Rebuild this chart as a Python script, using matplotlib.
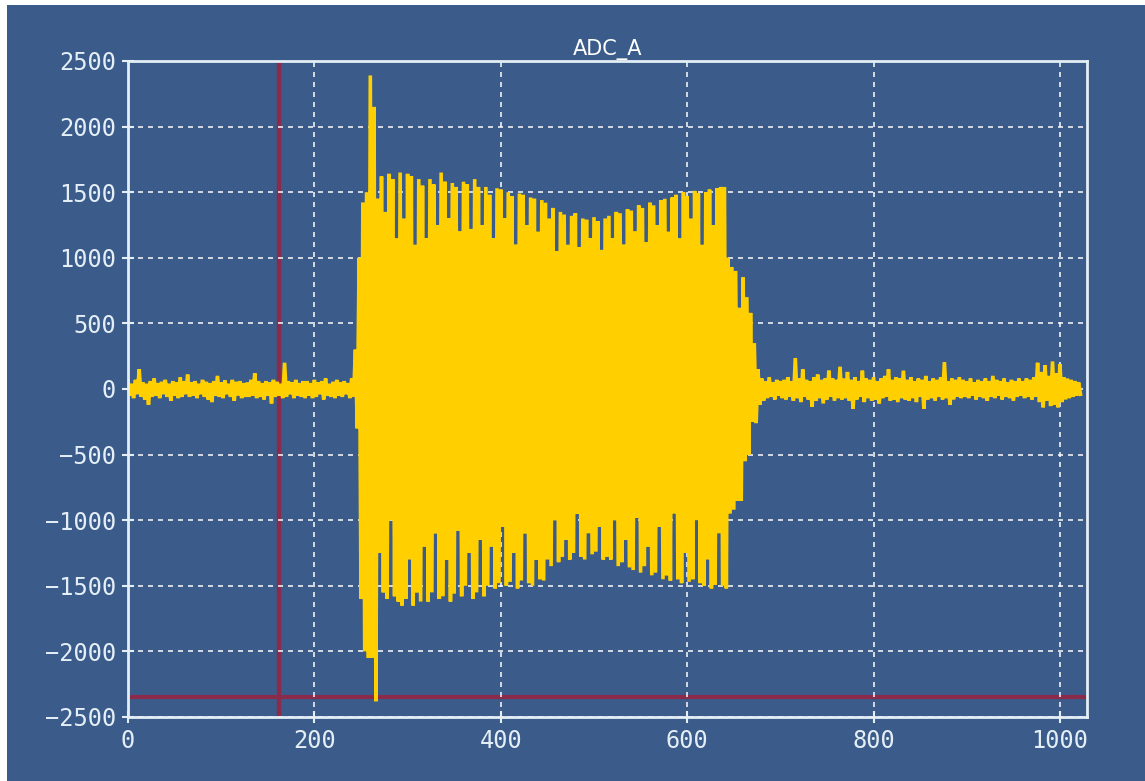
import matplotlib
import matplotlib.pyplot as plt
import numpy as np
from matplotlib.patches import Rectangle

matplotlib.use("Agg")

# ADC_A capture: one peak and one trough per 4-sample block
upper = [
    60, 40, 70, 150, 50, 40, 60, 80, 45, 55, 70, 40, 60, 50, 90, 60,
    110, 50, 60, 40, 70, 55, 45, 60, 100, 50, 65, 40, 70, 55, 60, 45,
    50, 70, 120, 60, 45, 60, 50, 70, 55, 40, 200, 60, 50, 70, 45, 60,
    60, 45, 70, 50, 60, 80, 40, 55, 70, 50, 60, 45, 80, 300, 1000, 1420,
    1500, 2390, 2150, 1450, 1620, 1350, 1640, 1600, 1150, 1650, 1300, 1640, 1620, 1100, 1600, 1550,
    1150, 1600, 1560, 1250, 1650, 1580, 1300, 1570, 1540, 1200, 1580, 1560, 1220, 1600, 1540, 1250,
    1540, 1480, 1150, 1530, 1520, 1300, 1500, 1470, 1100, 1490, 1480, 1250, 1460, 1450, 1200, 1440,
    1420, 1300, 1380, 1050, 1350, 1330, 1100, 1320, 1340, 1080, 1300, 1290, 1150, 1310, 1280, 1060,
    1300, 1320, 1150, 1350, 1340, 1100, 1370, 1360, 1200, 1400, 1380, 1120, 1420, 1400, 1250, 1440,
    1450, 1200, 1460, 1480, 1150, 1500, 1470, 1300, 1510, 1490, 1100, 1500, 1520, 1250, 1530, 1540,
    1540, 1000, 930, 900, 620, 850, 700, 580, 350, 150, 80, 60, 90, 50, 70, 60,
    70, 90, 60, 236, 80, 150, 70, 60, 90, 110, 70, 80, 140, 80, 70, 170,
    80, 130, 70, 90, 60, 140, 80, 70, 90, 60, 80, 100, 150, 70, 90, 80,
    140, 70, 90, 60, 80, 70, 100, 60, 80, 70, 90, 205, 60, 80, 70, 90,
    70, 60, 80, 50, 70, 60, 80, 60, 100, 70, 60, 80, 50, 70, 60, 80,
    60, 80, 70, 90, 200, 130, 180, 100, 210, 120, 190, 90, 80, 70, 60, 50,
]
lower = [
    -50, -70, -40, -60, -80, -120, -60, -50, -70, -40, -60, -90, -50, -70, -60, -40,
    -60, -50, -70, -40, -60, -80, -100, -50, -60, -70, -40, -60, -90, -50, -70, -60,
    -60, -50, -70, -60, -80, -50, -110, -60, -50, -70, -60, -40, -70, -50, -60, -70,
    -50, -70, -60, -40, -80, -50, -60, -70, -50, -60, -40, -70, -60, -300, -1600, -2000,
    -2050, -2050, -2380, -1250, -1550, -1600, -1000, -1580, -1620, -1650, -1600, -1300, -1650, -1550, -1620, -1200,
    -1620, -1550, -1100, -1600, -1580, -1300, -1620, -1560, -1080, -1580, -1500, -1250, -1600, -1550, -1150, -1580,
    -1500, -1200, -1520, -1480, -1050, -1500, -1470, -1250, -1520, -1460, -1100, -1480, -1500, -1300, -1450, -1460,
    -1300, -1350, -1000, -1320, -1280, -1150, -1300, -1250, -950, -1280, -1300, -1100, -1260, -1240, -1050, -1300,
    -1280, -1300, -1000, -1350, -1320, -1150, -1360, -1380, -980, -1400, -1350, -1200, -1420, -1400, -1050, -1450,
    -1420, -1460, -950, -1450, -1480, -1250, -1470, -1450, -1000, -1480, -1500, -1300, -1520, -1490, -1100, -1500,
    -1520, -950, -920, -850, -850, -550, -500, -250, -260, -120, -90, -70, -60, -80, -50, -70,
    -80, -60, -90, -70, -100, -60, -80, -135, -90, -70, -110, -80, -60, -90, -70, -80,
    -70, -90, -150, -80, -60, -100, -70, -90, -80, -110, -70, -60, -90, -80, -100, -70,
    -80, -90, -70, -100, -60, -150, -80, -70, -90, -60, -80, -70, -120, -80, -60, -70,
    -60, -70, -50, -80, -60, -70, -90, -60, -70, -50, -80, -60, -70, -90, -60, -50,
    -70, -60, -80, -60, -100, -140, -90, -130, -120, -140, -100, -80, -70, -60, -50, -40,
]
cursor_x = 162
cursor_y = -2350

bg = "#3b5c8a"
fg = "#e4eef6"

samples = np.arange(0, 2 * len(upper) * 2, 2)
adc = np.empty(len(samples))
adc[0::2] = upper
adc[1::2] = lower

fig = plt.figure(figsize=(11.45, 7.81), dpi=100, facecolor="white")
fig.add_artist(Rectangle((7 / 1145, 0), 1, 776 / 781, transform=fig.transFigure,
                         facecolor=bg, edgecolor="none", zorder=-10))
ax = fig.add_axes([128 / 1145, 1 - 717 / 781, 959 / 1145, 656 / 781])
ax.set_facecolor(bg)

ax.axvline(cursor_x, color="#8a2b4c", lw=3.2, zorder=1)
ax.axhline(cursor_y, color="#8a2b4c", lw=3.0, zorder=1)
ax.plot(samples, adc, color="#ffcf00", lw=2.6, solid_joinstyle="miter", zorder=3)

ax.set_xlim(0, 1029)
ax.set_ylim(-2500, 2500)
ax.set_xticks([0, 200, 400, 600, 800, 1000])
ax.set_yticks(np.arange(-2500, 2501, 500))
ax.grid(True, color="white", linestyle=(0, (3, 3)), lw=1.2, alpha=0.9, zorder=2)

for s in ax.spines.values():
    s.set_color(fg)
    s.set_linewidth(2)
    s.set_zorder(4)
ax.tick_params(colors=fg, direction="inout", length=9, width=1.5,
               labelsize=17, pad=4)
for lab in ax.get_xticklabels() + ax.get_yticklabels():
    lab.set_family("DejaVu Sans Mono")

ax.set_title("ADC_A", color="white", fontsize=15, pad=4)

fig.savefig("out.png", dpi=100, facecolor=fig.get_facecolor())
